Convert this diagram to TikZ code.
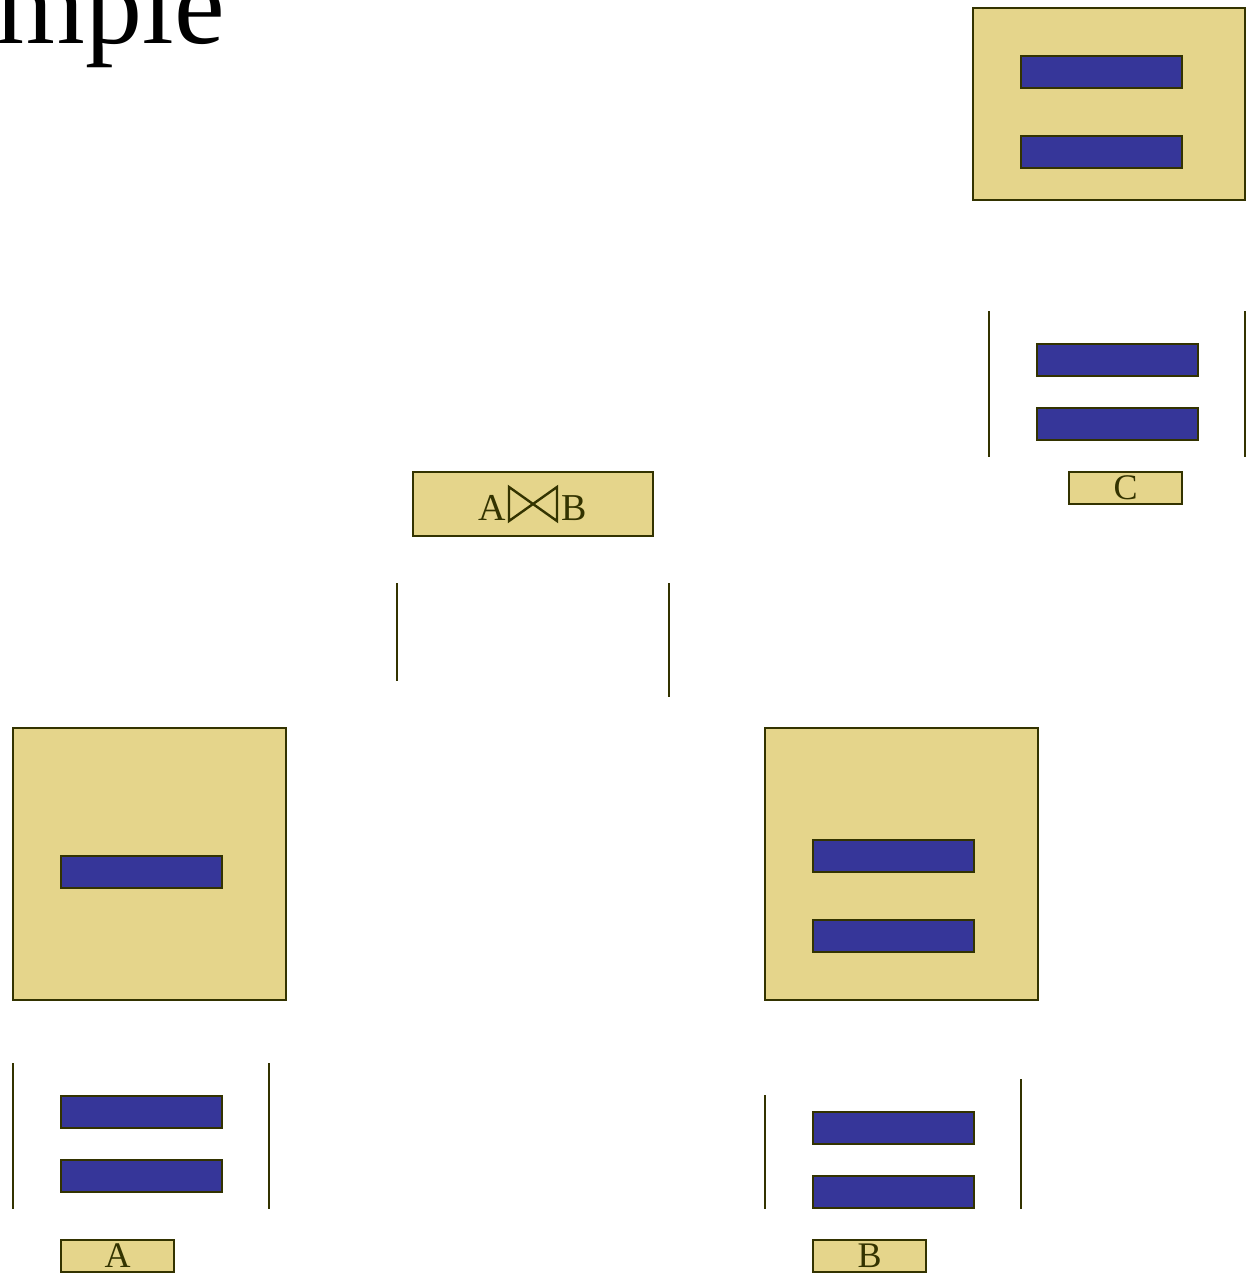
\documentclass[tikz,border=0pt]{standalone}
\usepackage{fontspec}
\setmainfont{Liberation Serif}
\definecolor{tan}{RGB}{229,213,139}
\definecolor{bar}{RGB}{54,54,153}
\definecolor{edge}{RGB}{51,51,0}
\tikzset{
  tanbox/.style={draw=edge, fill=tan, line width=2.8pt, inner sep=0pt, outer sep=0pt},
  barbox/.style={draw=edge, fill=bar, line width=2.8pt, inner sep=0pt, minimum width=161pt, minimum height=32pt},
  labelbox/.style={tanbox, minimum width=113pt, minimum height=32pt, text=edge, font=\fontsize{36}{36}\selectfont},
  rail/.style={draw=edge, line width=2.8pt},
}
\begin{document}
\begin{tikzpicture}[x=1pt,y=-1pt]
\useasboundingbox (0,0) rectangle (1250,1274);

% title, partly off the page
\node[anchor=base east, inner sep=0pt, font=\fontsize{114}{120}\selectfont] (title) at (225,43) {Example};

% relation C : block and its run
\node[tanbox, minimum width=272pt, minimum height=192pt] (Cblk) at (1109,104) {};
\node[barbox] (Cb1) at (1101.5,72) {};
\node[barbox] (Cb2) at (1101.5,152) {};
\coordinate (Cl1) at (989,311); \coordinate (Cl2) at (989,457);
\coordinate (Cr1) at (1245,311); \coordinate (Cr2) at (1245,457);
\draw[rail] (Cl1) -- (Cl2);
\draw[rail] (Cr1) -- (Cr2);
\node[barbox] (Cr1b) at (1117.5,360) {};
\node[barbox] (Cr2b) at (1117.5,424) {};
\node[labelbox] (Clab) at (1125.5,488) {\raisebox{-5pt}{C}};

% join node
\node[tanbox, minimum width=240pt, minimum height=64pt] (join) at (533,504) {};
\node[inner sep=0pt, anchor=base east, text=edge, font=\fontsize{38}{38}\selectfont] (jA) at (506,520) {A};
\node[inner sep=0pt, anchor=base west, text=edge, font=\fontsize{38}{38}\selectfont] (jB) at (561,520) {B};
\coordinate (bt1) at (509,487); \coordinate (bt2) at (509,521);
\coordinate (bt3) at (557,487); \coordinate (bt4) at (557,521);
\draw[edge, line width=2.4pt, line join=miter] (bt1) -- (bt2) -- (bt3) -- (bt4) -- cycle;

\coordinate (jl1) at (397,583); \coordinate (jl2) at (397,681);
\coordinate (jr1) at (669,583); \coordinate (jr2) at (669,697);
\draw[rail] (jl1) -- (jl2);
\draw[rail] (jr1) -- (jr2);

% relation A
\node[tanbox, minimum width=273pt, minimum height=272pt] (Ablk) at (149.5,864) {};
\node[barbox] (Ab1) at (141.5,872) {};
\coordinate (Al1) at (13,1063); \coordinate (Al2) at (13,1209);
\coordinate (Ar1) at (269,1063); \coordinate (Ar2) at (269,1209);
\draw[rail] (Al1) -- (Al2);
\draw[rail] (Ar1) -- (Ar2);
\node[barbox] (Ar1b) at (141.5,1112) {};
\node[barbox] (Ar2b) at (141.5,1176) {};
\node[labelbox] (Alab) at (117.5,1256) {\raisebox{-5pt}{A}};

% relation B
\node[tanbox, minimum width=273pt, minimum height=272pt] (Bblk) at (901.5,864) {};
\node[barbox] (Bb1) at (893.5,856) {};
\node[barbox] (Bb2) at (893.5,936) {};
\coordinate (Bl1) at (765,1095); \coordinate (Bl2) at (765,1209);
\coordinate (Br1) at (1021,1079); \coordinate (Br2) at (1021,1209);
\draw[rail] (Bl1) -- (Bl2);
\draw[rail] (Br1) -- (Br2);
\node[barbox] (Br1b) at (893.5,1128) {};
\node[barbox] (Br2b) at (893.5,1192) {};
\node[labelbox] (Blab) at (869.5,1256) {\raisebox{-5pt}{B}};
\end{tikzpicture}
\end{document}
